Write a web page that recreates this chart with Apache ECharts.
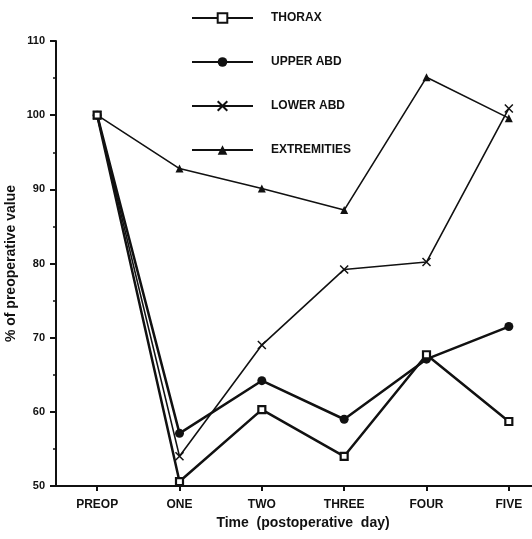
<!DOCTYPE html>
<html>
<head>
<meta charset="utf-8">
<script src="https://cdn.jsdelivr.net/npm/echarts@6/dist/echarts.min.js"></script>
<style>
html,body{margin:0;padding:0;background:#fff;}
#c{width:532px;height:539px;}
</style>
</head>
<body>
<div id="c"></div>
<script>
const categories = ['PREOP', 'ONE', 'TWO', 'THREE', 'FOUR', 'FIVE'];
const thorax = [100, 50.6, 60.3, 54.0, 67.7, 58.7];
const upperAbd = [100, 57.1, 64.2, 59.0, 67.1, 71.5];
const lowerAbd = [100, 54.0, 69.0, 79.2, 80.2, 100.9];
const extremities = [100, 92.8, 90.1, 87.2, 105.1, 99.6];
const seriesNames = ['THORAX', 'UPPER ABD', 'LOWER ABD', 'EXTREMITIES'];

const FONT = '"Liberation Sans", Arial, sans-serif';
const INK = '#111';
const crossPath = 'path://M0,0L10,10M10,0L0,10';

const chart = echarts.init(document.getElementById('c'), null, {renderer: 'canvas'});
chart.setOption({
  backgroundColor: '#fff',
  animation: false,
  legend: {
    orient: 'vertical',
    left: 186,
    top: 7,
    itemWidth: 61,
    itemHeight: 12,
    itemGap: 32,
    data: seriesNames,
    textStyle: {fontFamily: FONT, fontWeight: 'bold', fontSize: 12, color: INK, padding: [0, 0, 0, 13]}
  },
  grid: {left: 56, right: -18, top: 41, bottom: 53, outerBoundsMode: 'none', containLabel: false},
  xAxis: {
    type: 'category',
    data: categories,
    boundaryGap: true,
    name: 'Time  (postoperative  day)',
    nameLocation: 'middle',
    nameGap: 30,
    nameMoveOverlap: false,
    nameTextStyle: {fontFamily: FONT, fontWeight: 'bold', fontSize: 14, color: INK},
    axisLine: {show: true, lineStyle: {color: INK, width: 2}},
    axisTick: {show: true, alignWithLabel: true, length: 5, lineStyle: {color: INK, width: 2}},
    axisLabel: {fontFamily: FONT, fontWeight: 'bold', fontSize: 12, color: INK, margin: 13},
    splitLine: {show: false}
  },
  yAxis: {
    type: 'value',
    min: 50,
    max: 110,
    interval: 10,
    name: '% of preoperative value',
    nameLocation: 'middle',
    nameRotate: 90,
    nameGap: 38,
    nameMoveOverlap: false,
    nameTextStyle: {fontFamily: FONT, fontWeight: 'bold', fontSize: 14, color: INK},
    axisLine: {show: true, lineStyle: {color: INK, width: 2}},
    axisTick: {show: true, length: 6, lineStyle: {color: INK, width: 2}},
    minorTick: {show: true, splitNumber: 2, length: 3, lineStyle: {color: INK, width: 1.5}},
    axisLabel: {fontFamily: FONT, fontWeight: 'bold', fontSize: 11, color: INK, margin: 11},
    splitLine: {show: false},
    minorSplitLine: {show: false}
  },
  series: [
    {
      name: seriesNames[0], type: 'line', data: thorax,
      symbol: 'rect', symbolSize: 7, showAllSymbol: true,
      lineStyle: {color: INK, width: 2.5},
      itemStyle: {color: '#fff', borderColor: INK, borderWidth: 2.2},
      z: 4
    },
    {
      name: seriesNames[1], type: 'line', data: upperAbd,
      symbol: 'circle', symbolSize: 9,
      lineStyle: {color: INK, width: 2.5},
      itemStyle: {color: INK, borderColor: INK, borderWidth: 0},
      z: 3
    },
    {
      name: seriesNames[2], type: 'line', data: lowerAbd,
      symbol: crossPath, symbolSize: 8,
      lineStyle: {color: INK, width: 1.6},
      itemStyle: {color: INK, borderColor: INK, borderWidth: 1.5},
      z: 2
    },
    {
      name: seriesNames[3], type: 'line', data: extremities,
      symbol: 'triangle', symbolSize: 8,
      lineStyle: {color: INK, width: 1.6},
      itemStyle: {color: INK, borderColor: INK, borderWidth: 0},
      z: 1
    }
  ]
});
</script>
</body>
</html>
